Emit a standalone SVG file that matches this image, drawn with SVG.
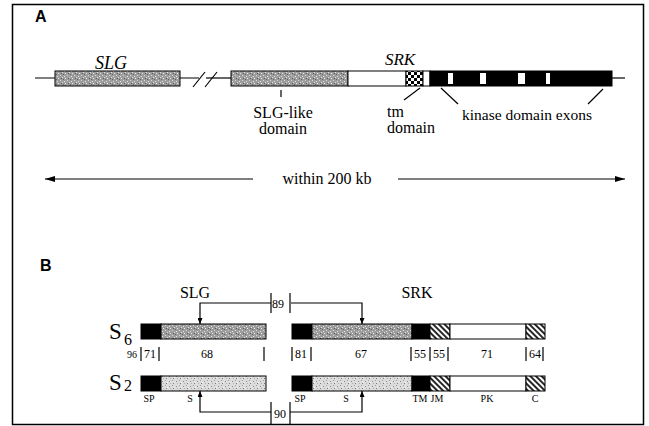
<svg xmlns="http://www.w3.org/2000/svg" width="649" height="426" viewBox="0 0 649 426">
<style>
.lbl{font-family:"Liberation Serif","Times New Roman",serif;fill:#000}
.pan{font-family:"Liberation Sans",Arial,sans-serif;font-weight:bold;font-size:16px}
.ln{stroke:#000;stroke-width:1.2;fill:none}
.bx{stroke:#000;stroke-width:1}
.num{font-size:12px}
.sm{font-size:10px}
</style>
<defs>
<pattern id="stD" width="7" height="5" patternUnits="userSpaceOnUse">
<rect width="7" height="5" fill="#9c9c9c"/>
<rect x="1" y="1" width="1" height="1" fill="#e6e6e6"/>
<rect x="4" y="0" width="1" height="1" fill="#d8d8d8"/>
<rect x="5" y="3" width="1" height="1" fill="#5a5a5a"/>
<rect x="2" y="3" width="1" height="1" fill="#ececec"/>
<rect x="6" y="2" width="1" height="1" fill="#e0e0e0"/>
<rect x="0" y="4" width="1" height="1" fill="#666"/>
</pattern>
<pattern id="stL" width="7" height="5" patternUnits="userSpaceOnUse">
<rect width="7" height="5" fill="#dcdcdc"/>
<rect x="1" y="1" width="1" height="1" fill="#8a8a8a"/>
<rect x="4" y="0" width="1" height="1" fill="#a0a0a0"/>
<rect x="5" y="3" width="1" height="1" fill="#7a7a7a"/>
<rect x="2" y="3" width="1" height="1" fill="#b0b0b0"/>
<rect x="6" y="2" width="1" height="1" fill="#f4f4f4"/>
</pattern>
<pattern id="chk" width="6" height="6" patternUnits="userSpaceOnUse">
<rect width="6" height="6" fill="#fff"/>
<rect x="0" y="0" width="3" height="3" fill="#000"/>
<rect x="3" y="3" width="3" height="3" fill="#000"/>
</pattern>
<pattern id="hat" width="4" height="4" patternUnits="userSpaceOnUse" patternTransform="rotate(-45)">
<rect width="4" height="4" fill="#fff"/>
<line x1="1" y1="0" x2="1" y2="4" stroke="#000" stroke-width="1.7"/>
</pattern>
<marker id="ahA" viewBox="0 0 10 6" refX="10" refY="3" markerWidth="11" markerHeight="6" markerUnits="userSpaceOnUse" orient="auto">
<path d="M0,0 L10,3 L0,6 z" fill="#000"/>
</marker>
<marker id="ahB" viewBox="0 0 6 5" refX="6" refY="2.5" markerWidth="6" markerHeight="5" markerUnits="userSpaceOnUse" orient="auto">
<path d="M0,0 L6,2.5 L0,5 z" fill="#000"/>
</marker>
</defs>

<rect x="12.5" y="4.5" width="631" height="420" fill="#fff" stroke="#000" stroke-width="1.5"/>

<!-- Panel A -->
<text class="pan" x="35" y="22">A</text>

<g id="connectors">
<!-- chromosome line -->
<line class="ln" x1="35" y1="78" x2="199" y2="78"/>
<line class="ln" x1="206" y1="78" x2="231" y2="78"/>
<line class="ln" x1="612" y1="78" x2="625" y2="78"/>
<line class="ln" x1="193" y1="87" x2="205" y2="72"/>
<line class="ln" x1="205" y1="87" x2="217" y2="72"/>
<!-- label pointers -->
<line class="ln" x1="281" y1="90" x2="281" y2="97"/>
<line class="ln" x1="420" y1="88" x2="404" y2="100"/>
<line class="ln" x1="441" y1="88" x2="458" y2="104"/>
<line class="ln" x1="603" y1="89" x2="588" y2="104"/>
<!-- within 200 kb arrows -->
<line class="ln" x1="253" y1="179" x2="45" y2="179" marker-end="url(#ahA)"/>
<line class="ln" x1="398" y1="179" x2="625" y2="179" marker-end="url(#ahA)"/>
<!-- panel B 89 -->
<polyline class="ln" points="271,303 200,303 200,324" marker-end="url(#ahB)"/>
<polyline class="ln" points="291,303 362,303 362,324" marker-end="url(#ahB)"/>
<line class="ln" x1="271" y1="293" x2="271" y2="313"/>
<line class="ln" x1="290" y1="293" x2="290" y2="313"/>
<!-- panel B 90 -->
<polyline class="ln" points="271,412 200,412 200,391" marker-end="url(#ahB)"/>
<polyline class="ln" points="290,412 362,412 362,391" marker-end="url(#ahB)"/>
<line class="ln" x1="271" y1="402" x2="271" y2="424"/>
<line class="ln" x1="290" y1="402" x2="290" y2="424"/>
</g>

<g id="slgA">
<rect class="bx" x="55" y="71" width="125" height="15" fill="url(#stD)"/>
<text class="lbl" x="111" y="69" font-size="18" font-style="italic" text-anchor="middle">SLG</text>
</g>

<g id="srkA">
<rect class="bx" x="231" y="71" width="117" height="15" fill="url(#stD)"/>
<rect class="bx" x="348" y="71" width="58" height="15" fill="#fff"/>
<rect class="bx" x="406" y="71" width="17" height="15" fill="url(#chk)"/>
<rect class="bx" x="423" y="71" width="7" height="15" fill="#fff"/>
<rect class="bx" x="430" y="71" width="182" height="15" fill="#000"/>
<rect x="448" y="73" width="5" height="11" fill="#fff"/>
<rect x="480" y="73" width="6" height="11" fill="#fff"/>
<rect x="518" y="73" width="7" height="11" fill="#fff"/>
<rect x="546" y="73" width="4" height="11" fill="#fff"/>
<text class="lbl" x="400" y="65" font-size="17" font-style="italic" text-anchor="middle">SRK</text>
</g>

<g id="labelsA">
<text class="lbl" x="283" y="118" font-size="16" text-anchor="middle">SLG-like</text>
<text class="lbl" x="283" y="134" font-size="16" text-anchor="middle">domain</text>
<text class="lbl" x="387" y="117" font-size="16">tm</text>
<text class="lbl" x="387" y="133" font-size="16">domain</text>
<text class="lbl" x="462" y="120" font-size="15.5">kinase domain exons</text>
<text class="lbl" x="327" y="184" font-size="16" text-anchor="middle">within 200 kb</text>
</g>

<!-- Panel B -->
<text class="pan" x="40" y="271">B</text>

<g id="titlesB">
<text class="lbl" x="195" y="298" font-size="16" text-anchor="middle">SLG</text>
<text class="lbl" x="417" y="298" font-size="16" text-anchor="middle">SRK</text>
<text class="lbl" x="272" y="308" font-size="12">89</text>
<text class="lbl" x="274" y="418" font-size="12">90</text>
</g>

<g id="S6">
<text class="lbl" x="109" y="339" font-size="23">S</text>
<text class="lbl" x="124" y="345" font-size="16">6</text>
<rect class="bx" x="141" y="324" width="20" height="15" fill="#000"/>
<rect class="bx" x="161" y="324" width="105" height="15" fill="url(#stD)"/>
<rect class="bx" x="292" y="324" width="20" height="15" fill="#000"/>
<rect class="bx" x="312" y="324" width="100" height="15" fill="url(#stD)"/>
<rect class="bx" x="412" y="324" width="18" height="15" fill="#000"/>
<rect class="bx" x="430" y="324" width="20" height="15" fill="url(#hat)"/>
<rect class="bx" x="450" y="324" width="76" height="15" fill="#fff"/>
<rect class="bx" x="526" y="324" width="19" height="15" fill="url(#hat)"/>
</g>

<g id="identities">
<text class="lbl sm" x="127" y="358">96</text>
<line class="ln" x1="141" y1="347" x2="141" y2="361"/>
<text class="lbl num" x="150" y="358" text-anchor="middle">71</text>
<line class="ln" x1="159" y1="347" x2="159" y2="361"/>
<text class="lbl num" x="207" y="358" text-anchor="middle">68</text>
<line class="ln" x1="264" y1="347" x2="264" y2="361"/>
<line class="ln" x1="292" y1="347" x2="292" y2="361"/>
<text class="lbl num" x="301" y="358" text-anchor="middle">81</text>
<line class="ln" x1="311" y1="347" x2="311" y2="361"/>
<text class="lbl num" x="361" y="358" text-anchor="middle">67</text>
<line class="ln" x1="411" y1="347" x2="411" y2="361"/>
<text class="lbl num" x="420" y="358" text-anchor="middle">55</text>
<line class="ln" x1="430" y1="347" x2="430" y2="361"/>
<text class="lbl num" x="439" y="358" text-anchor="middle">55</text>
<line class="ln" x1="448" y1="347" x2="448" y2="361"/>
<text class="lbl num" x="487" y="358" text-anchor="middle">71</text>
<line class="ln" x1="526" y1="347" x2="526" y2="361"/>
<text class="lbl num" x="535" y="358" text-anchor="middle">64</text>
<line class="ln" x1="543" y1="347" x2="543" y2="361"/>
</g>

<g id="S2">
<text class="lbl" x="109" y="390" font-size="23">S</text>
<text class="lbl" x="124" y="391" font-size="16">2</text>
<rect class="bx" x="141" y="376" width="20" height="15" fill="#000"/>
<rect class="bx" x="161" y="376" width="105" height="15" fill="url(#stL)"/>
<rect class="bx" x="292" y="376" width="20" height="15" fill="#000"/>
<rect class="bx" x="312" y="376" width="100" height="15" fill="url(#stL)"/>
<rect class="bx" x="412" y="376" width="18" height="15" fill="#000"/>
<rect class="bx" x="430" y="376" width="20" height="15" fill="url(#hat)"/>
<rect class="bx" x="450" y="376" width="76" height="15" fill="#fff"/>
<rect class="bx" x="526" y="376" width="19" height="15" fill="url(#hat)"/>
</g>

<g id="domainLabels">
<text class="lbl sm" x="149" y="402" text-anchor="middle">SP</text>
<text class="lbl sm" x="190" y="402" text-anchor="middle">S</text>
<text class="lbl sm" x="300" y="402" text-anchor="middle">SP</text>
<text class="lbl sm" x="346" y="402" text-anchor="middle">S</text>
<text class="lbl sm" x="420" y="402" text-anchor="middle">TM</text>
<text class="lbl sm" x="437" y="402" text-anchor="middle">JM</text>
<text class="lbl sm" x="487" y="402" text-anchor="middle">PK</text>
<text class="lbl sm" x="535" y="402" text-anchor="middle">C</text>
</g>
</svg>
